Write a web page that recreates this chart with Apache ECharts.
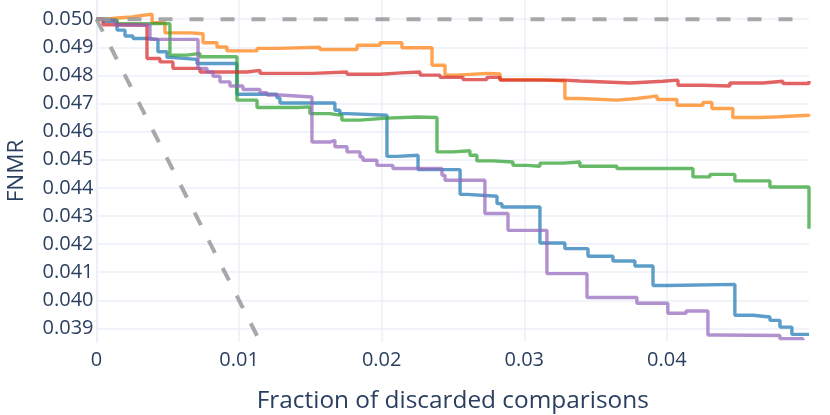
<!DOCTYPE html>
<html lang="en">
<head>
<meta charset="UTF-8" />
<title>FNMR vs fraction of discarded comparisons</title>
<script src="https://cdn.jsdelivr.net/npm/echarts@6/dist/echarts.min.js"></script>
<style>
  html, body { margin: 0; padding: 0; background: #fff; }
  #chart { width: 830px; height: 415px; }
</style>
</head>
<body>
<div id="chart"></div>
<script>
/* ---------- data ---------- */
const xTicks = [0, 0.01, 0.02, 0.03, 0.04];
const yTicks = [0.039, 0.04, 0.041, 0.042, 0.043, 0.044, 0.045, 0.046, 0.047, 0.048, 0.049, 0.05];

// each point starts a new level (step shape "hv")
const blue = [
  [0, 0.05], [0.00046, 0.04992], [0.00144, 0.04961], [0.002, 0.0494], [0.00256, 0.04931],
  [0.00354, 0.04928], [0.00431, 0.04884], [0.00494, 0.04864], [0.00515, 0.04857],
  [0.00705, 0.04842], [0.00985, 0.04733], [0.01266, 0.0472], [0.01287, 0.04702],
  [0.01672, 0.04676], [0.01707, 0.04664], [0.01757, 0.04658], [0.02037, 0.04512],
  [0.02107, 0.04516], [0.02255, 0.04465], [0.0255, 0.04377], [0.02598, 0.0437],
  [0.02809, 0.04344], [0.02844, 0.04332], [0.0311, 0.04204], [0.03285, 0.04184],
  [0.03447, 0.04157], [0.03622, 0.0414], [0.03776, 0.04122], [0.03903, 0.04053],
  [0.04, 0.04057], [0.04477, 0.03947], [0.04604, 0.03941], [0.04723, 0.03929],
  [0.04793, 0.03905], [0.04877, 0.03879], [0.04997, 0.03881]
];
const orange = [
  [0, 0.05], [0.0005, 0.05004], [0.0015, 0.05008], [0.0025, 0.05013], [0.0032, 0.05018],
  [0.0039, 0.04987], [0.0048, 0.04951], [0.00656, 0.04948], [0.00747, 0.04916],
  [0.00845, 0.04901], [0.00915, 0.04887], [0.01126, 0.04896], [0.01266, 0.049],
  [0.01567, 0.04892], [0.01827, 0.04907], [0.01988, 0.04916], [0.02142, 0.04898],
  [0.02353, 0.04836], [0.02444, 0.04801], [0.02528, 0.04807], [0.02738, 0.04805],
  [0.0283, 0.04785], [0.0311, 0.0478], [0.03285, 0.04718], [0.0339, 0.04712],
  [0.0365, 0.04718], [0.0379, 0.04722], [0.0386, 0.04727], [0.03931, 0.04714],
  [0.04071, 0.04694], [0.04253, 0.04704], [0.04316, 0.04682], [0.04463, 0.0465],
  [0.0465, 0.04653], [0.0479, 0.04658], [0.04997, 0.04661]
];
const green = [
  [0, 0.05], [0.00025, 0.04996], [0.00144, 0.04984], [0.00515, 0.04872], [0.00635, 0.04878],
  [0.00726, 0.04866], [0.00985, 0.04712], [0.01126, 0.04686], [0.01406, 0.04688],
  [0.01497, 0.04664], [0.01637, 0.04658], [0.01721, 0.04641], [0.01848, 0.04648],
  [0.02037, 0.04652], [0.0225, 0.0465], [0.02388, 0.04528], [0.025, 0.04532],
  [0.02619, 0.04516], [0.02668, 0.04496], [0.02781, 0.04492], [0.02921, 0.0448],
  [0.03019, 0.04477], [0.0311, 0.04488], [0.03271, 0.04492], [0.0339, 0.04477],
  [0.0365, 0.04469], [0.04183, 0.04439], [0.04302, 0.04448], [0.04477, 0.04425],
  [0.04723, 0.04403], [0.04997, 0.04255]
];
const red = [
  [0, 0.05], [0.00046, 0.0498], [0.0013, 0.04978], [0.00354, 0.0486], [0.00445, 0.04848],
  [0.00536, 0.04825], [0.00726, 0.04812], [0.01055, 0.04818], [0.01147, 0.04807],
  [0.01518, 0.04812], [0.01757, 0.04804], [0.01988, 0.04809], [0.0214, 0.04812],
  [0.02269, 0.04801], [0.02409, 0.04793], [0.0257, 0.04785], [0.02738, 0.04793],
  [0.0283, 0.04783], [0.03285, 0.0478], [0.0339, 0.04773], [0.03741, 0.04779],
  [0.03973, 0.04783], [0.04078, 0.04765], [0.04253, 0.04762], [0.04442, 0.04773],
  [0.04674, 0.04779], [0.04814, 0.04771], [0.04997, 0.0478]
];
const purple = [
  [0, 0.05], [0.00025, 0.04996], [0.0013, 0.04979], [0.00375, 0.04928], [0.00712, 0.04825],
  [0.00775, 0.04812], [0.00817, 0.04797], [0.00866, 0.04777], [0.00936, 0.04762],
  [0.01027, 0.0475], [0.01147, 0.04738], [0.01196, 0.0473], [0.01287, 0.04723],
  [0.01511, 0.04563], [0.01637, 0.04569], [0.01672, 0.04546], [0.01757, 0.04528],
  [0.01848, 0.0451], [0.01869, 0.04498], [0.01967, 0.0448], [0.02079, 0.04469],
  [0.02423, 0.04445], [0.02444, 0.04427], [0.02724, 0.04309], [0.02886, 0.04249],
  [0.03159, 0.04095], [0.0344, 0.0401], [0.0379, 0.0399], [0.04007, 0.03954],
  [0.04135, 0.03962], [0.04288, 0.03877], [0.04351, 0.03875], [0.04793, 0.03864],
  [0.04954, 0.03858]
];
// reference lines: constant FNMR and ideal rejection (slope -1)
const baseline = [[0, 0.05], [0.05, 0.05]];
const oracle = [[0, 0.05], [0.05, 0]];

/* ---------- chart ---------- */
const font = "'Open Sans', sans-serif";
const ink = "#2a3f5f";
const gridColor = "#ebf0f8";

const chart = echarts.init(document.getElementById("chart"), null, { renderer: "canvas" });

const stepSeries = (name, color, data) => ({
  name,
  type: "line",
  step: "end",
  data,
  showSymbol: false,
  symbol: "none",
  lineStyle: { color, width: 3.4, opacity: 0.72 },
  itemStyle: { color },
  silent: true,
});

const dashSeries = (name, data) => ({
  name,
  type: "line",
  data,
  symbol: "none",
  lineStyle: { color: "#999999", width: 4, type: [14, 17], opacity: 0.85 },
  silent: true,
});

chart.setOption({
  backgroundColor: "#fff",
  animation: false,
  textStyle: { fontFamily: font },
  grid: {
    left: 96.5, right: 21, top: 0, bottom: 73,
    containLabel: false,
    outerBoundsMode: "none",
  },
  xAxis: {
    type: "value",
    min: 0,
    max: 0.04997,
    name: "Fraction of discarded comparisons",
    nameLocation: "middle",
    nameGap: 47,
    nameTextStyle: { color: ink, fontSize: 24.4, fontFamily: font },
    axisLine: { show: false },
    axisTick: { show: false, customValues: xTicks },
    axisLabel: {
      customValues: xTicks,
      color: ink,
      fontSize: 20,
      fontFamily: font,
      margin: 8,
      formatter: (v) => (v === 0 ? "0" : String(+v.toFixed(2))),
    },
    splitLine: { show: true, lineStyle: { color: gridColor, width: 1.5 } },
  },
  yAxis: {
    type: "value",
    min: 0.03852,
    max: 0.05068,
    name: "FNMR",
    nameLocation: "middle",
    nameRotate: 90,
    nameGap: 68,
    nameTextStyle: { color: ink, fontSize: 22.5, fontFamily: font },
    axisLine: { show: true, onZero: false, lineStyle: { color: gridColor, width: 2 } },
    axisTick: { show: false, customValues: yTicks },
    axisLabel: {
      customValues: yTicks,
      color: ink,
      fontSize: 20,
      fontFamily: font,
      margin: 3,
      formatter: (v) => v.toFixed(3),
    },
    splitLine: { show: true, lineStyle: { color: gridColor, width: 1.5 } },
  },
  series: [
    stepSeries("blue", "#1f77b4", blue),
    stepSeries("orange", "#ff7f0e", orange),
    stepSeries("green", "#2ca02c", green),
    stepSeries("red", "#d62728", red),
    stepSeries("purple", "#9467bd", purple),
    dashSeries("constant", baseline),
    dashSeries("ideal", oracle),
  ],
});
</script>
</body>
</html>
